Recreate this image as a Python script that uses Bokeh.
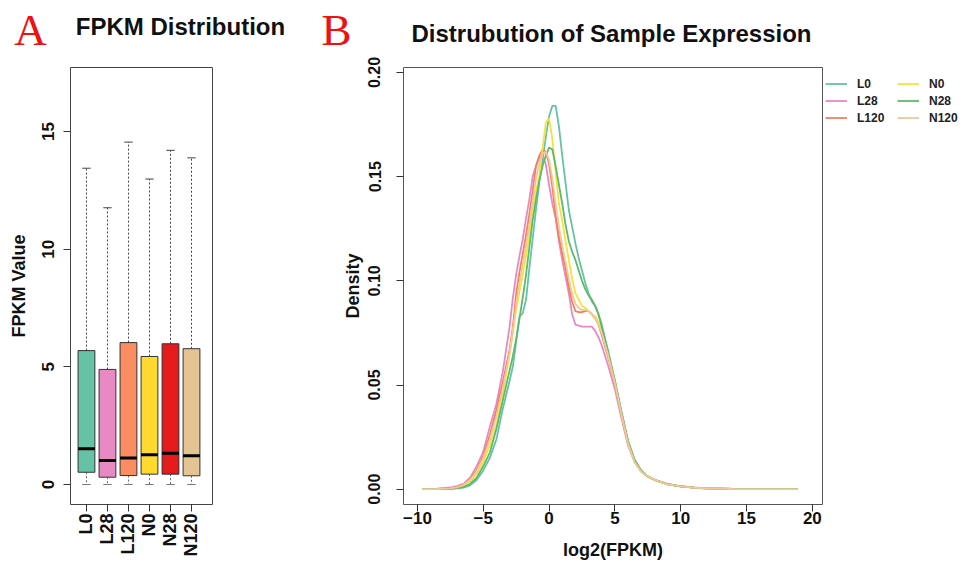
import math
from bokeh.plotting import figure
from bokeh.models import Range1d, FixedTicker, Label, Legend, LegendItem, NumeralTickFormatter
from bokeh.layouts import row, column
from bokeh.embed import file_html
from bokeh.resources import INLINE

# ---------------- data: panel A (boxplot) ----------------
samples = ["L0", "L28", "L120", "N0", "N28", "N120"]
box_low = [0.0, 0.0, 0.0, 0.0, 0.0, 0.0]
box_q1 = [0.52, 0.31, 0.38, 0.44, 0.44, 0.37]
box_median = [1.52, 1.02, 1.13, 1.26, 1.33, 1.22]
box_q3 = [5.69, 4.89, 6.03, 5.44, 5.98, 5.77]
box_high = [13.44, 11.76, 14.55, 12.98, 14.20, 13.88]
box_colors = ["#66C2A5", "#E78AC3", "#FC8D62", "#FFD92F", "#E41A1C", "#E5C494"]
a_yticks = [0, 5, 10, 15]

# ---------------- data: panel B (density) ----------------
log2_fpkm = [-9.6, -8.5, -7.5, -7, -6.5, -6, -5.5, -5, -4.5, -4,
             -3.5, -3, -2.75, -2.5, -2.25, -2, -1.75, -1.5, -1.25, -1,
             -0.75, -0.5, -0.25, 0, 0.25, 0.5, 0.75, 1, 1.25, 1.5,
             1.75, 2, 2.25, 2.5, 2.75, 3, 3.25, 3.5, 3.75, 4,
             4.5, 5, 5.5, 6, 6.5, 7, 7.5, 8, 9, 10,
             11, 12, 14, 16, 18.9]
density_L0 = [0, 0, 0.0002, 0.0004, 0.0008, 0.0018, 0.0045, 0.009, 0.015, 0.024,
              0.039, 0.052, 0.059, 0.071, 0.083, 0.0845, 0.091, 0.106, 0.120, 0.134,
              0.147, 0.158, 0.169, 0.179, 0.184, 0.184, 0.174, 0.160, 0.147, 0.134,
              0.126, 0.118, 0.111, 0.105, 0.099, 0.094, 0.090, 0.088, 0.084, 0.079,
              0.065, 0.052, 0.037, 0.023, 0.014, 0.0088, 0.006, 0.0045, 0.0023, 0.0013,
              0.0007, 0.0004, 0.0001, 0, 0]
density_L28 = [0, 0.0002, 0.0008, 0.0015, 0.0025, 0.0055, 0.011, 0.018, 0.030, 0.041,
               0.057, 0.078, 0.092, 0.103, 0.112, 0.120, 0.130, 0.139, 0.150, 0.155,
               0.159, 0.160, 0.156, 0.146, 0.137, 0.130, 0.119, 0.110, 0.102, 0.094,
               0.084, 0.079, 0.0785, 0.078, 0.078, 0.078, 0.078, 0.076, 0.073, 0.069,
               0.059, 0.048, 0.034, 0.021, 0.013, 0.0085, 0.006, 0.0045, 0.0025, 0.0014,
               0.0008, 0.0004, 0.0001, 0, 0]
density_L120 = [0, 0.0001, 0.0005, 0.001, 0.0022, 0.005, 0.009, 0.016, 0.026, 0.038,
                0.052, 0.067, 0.078, 0.094, 0.104, 0.113, 0.122, 0.132, 0.143, 0.155,
                0.160, 0.163, 0.162, 0.156, 0.145, 0.131, 0.121, 0.113, 0.106, 0.097,
                0.090, 0.0855, 0.085, 0.085, 0.0855, 0.0855, 0.084, 0.082, 0.079, 0.074,
                0.063, 0.051, 0.036, 0.022, 0.013, 0.0085, 0.006, 0.0045, 0.0023, 0.0013,
                0.0007, 0.0004, 0.0001, 0, 0]
density_N0 = [0, 0, 0.0003, 0.0007, 0.0015, 0.0035, 0.0074, 0.013, 0.021, 0.031,
              0.046, 0.065, 0.076, 0.086, 0.095, 0.103, 0.112, 0.122, 0.134, 0.143,
              0.150, 0.163, 0.176, 0.178, 0.168, 0.152, 0.137, 0.129, 0.119, 0.110,
              0.101, 0.094, 0.091, 0.088, 0.087, 0.0855, 0.084, 0.083, 0.080, 0.076,
              0.064, 0.051, 0.036, 0.022, 0.013, 0.0085, 0.006, 0.0045, 0.0023, 0.0013,
              0.0007, 0.0004, 0.0001, 0, 0]
density_N28 = [0, 0, 0.0002, 0.0005, 0.001, 0.0025, 0.0055, 0.011, 0.0175, 0.029,
               0.043, 0.057, 0.064, 0.072, 0.082, 0.092, 0.103, 0.116, 0.129, 0.139,
               0.148, 0.155, 0.160, 0.164, 0.163, 0.155, 0.146, 0.137, 0.127, 0.119,
               0.114, 0.110, 0.105, 0.100, 0.096, 0.093, 0.091, 0.088, 0.084, 0.078,
               0.066, 0.052, 0.037, 0.023, 0.014, 0.009, 0.006, 0.0045, 0.0024, 0.0013,
               0.0007, 0.0004, 0.0001, 0, 0]
density_N120 = [0, 0.0001, 0.0004, 0.0009, 0.002, 0.0045, 0.0085, 0.015, 0.024, 0.035,
                0.049, 0.065, 0.075, 0.089, 0.099, 0.108, 0.117, 0.127, 0.138, 0.149,
                0.156, 0.161, 0.162, 0.158, 0.149, 0.137, 0.126, 0.117, 0.109, 0.101,
                0.094, 0.089, 0.087, 0.086, 0.086, 0.0855, 0.084, 0.082, 0.079, 0.075,
                0.064, 0.051, 0.036, 0.022, 0.013, 0.0085, 0.006, 0.0045, 0.0023, 0.0013,
                0.0007, 0.0004, 0.0001, 0, 0]
density_series = [density_L0, density_L28, density_L120, density_N0, density_N28, density_N120]
density_colors = ["#66C2A5", "#E78AC3", "#F47F5E", "#F5E23A", "#5DBA6B", "#F0C89A"]
b_xticks = [-10, -5, 0, 5, 10, 15, 20]
b_yticks = [0.0, 0.05, 0.10, 0.15, 0.20]

FONT = "Liberation Sans"
AXC = "#333333"
TOTAL_W, TOTAL_H, HEAD_H = 969, 565, 56
A_W = 330
TOP_B, FRAME_H = 11, 437                      # shared by both panels (row aligns frames)
BOTTOM_B = TOTAL_H - HEAD_H - TOP_B - FRAME_H


def style_axis(ax, size):
    ax.axis_line_color = None
    ax.major_tick_line_color = AXC
    ax.major_tick_in = 0
    ax.major_tick_out = 7
    ax.minor_tick_line_color = None
    ax.major_label_text_font = FONT
    ax.major_label_text_font_style = "bold"
    ax.major_label_text_font_size = size
    ax.major_label_text_color = "#111111"
    ax.axis_label_text_font = FONT
    ax.axis_label_text_font_style = "bold"
    ax.axis_label_text_font_size = "18px"
    ax.axis_label_text_color = "#111111"


# ---------------- header (panel letters and titles) ----------------
head = figure(width=TOTAL_W, height=HEAD_H, x_range=Range1d(0, TOTAL_W), y_range=Range1d(HEAD_H, 0),
              x_axis_type=None, y_axis_type=None, title=None, min_border=0, min_border_left=0,
              min_border_right=0, min_border_top=0, min_border_bottom=0,
              toolbar_location=None, output_backend="svg")
head.outline_line_color = None
head.xgrid.grid_line_color = None
head.ygrid.grid_line_color = None
for txt, x, y, font, size, color, style in [
        ("A", 30, 29, "Liberation Serif", "45px", "#EE1111", "normal"),
        ("FPKM Distribution", 180, 26, FONT, "24px", "#111111", "bold"),
        ("B", 336, 29, "Liberation Serif", "45px", "#EE1111", "normal"),
        ("Distrubution of Sample Expression", 611, 33, FONT, "24px", "#111111", "bold")]:
    head.add_layout(Label(x=x, y=y, text=txt, text_font=font, text_font_size=size,
                          text_font_style=style, text_color=color,
                          text_align="center", text_baseline="middle"))

# ---------------- panel A ----------------
pos = list(range(1, len(samples) + 1))
pA = figure(frame_width=142, frame_height=FRAME_H, title=None,
            min_border_left=70, min_border_right=A_W - 70 - 142, min_border_top=TOP_B,
            min_border_bottom=BOTTOM_B,
            x_range=Range1d(0.24, 7.0), y_range=Range1d(-0.85, 17.72),
            toolbar_location=None, output_backend="svg")
pA.xgrid.grid_line_color = None
pA.ygrid.grid_line_color = None
pA.outline_line_color = "#444444"
pA.outline_line_width = 1

half_cap = 0.2
half_box = 0.4
pA.segment(x0=pos, y0=box_q3, x1=pos, y1=box_high, line_color="#444444", line_dash="2 2", line_width=1)
pA.segment(x0=pos, y0=box_q1, x1=pos, y1=box_low, line_color="#666666", line_dash="2 2", line_width=1)
pA.segment(x0=[p - half_cap for p in pos], y0=box_high, x1=[p + half_cap for p in pos], y1=box_high,
           line_color="#444444", line_width=1)
pA.segment(x0=[p - half_cap for p in pos], y0=box_low, x1=[p + half_cap for p in pos], y1=box_low,
           line_color="#777777", line_width=1)
pA.vbar(x=pos, width=2 * half_box, bottom=box_q1, top=box_q3, fill_color=box_colors,
        line_color="#333333", line_width=1)
pA.segment(x0=[p - half_box for p in pos], y0=box_median, x1=[p + half_box for p in pos], y1=box_median,
           line_color="#000000", line_width=3)

pA.yaxis.ticker = FixedTicker(ticks=a_yticks)
pA.xaxis.ticker = FixedTicker(ticks=pos)
pA.xaxis.major_label_overrides = {p: s for p, s in zip(pos, samples)}
style_axis(pA.xaxis[0], "18px")
style_axis(pA.yaxis[0], "17px")
pA.xaxis.major_label_orientation = math.pi / 2
pA.xaxis.major_label_standoff = 2
pA.yaxis.major_label_orientation = "parallel"
pA.yaxis.major_label_standoff = 9
pA.yaxis.axis_label = "FPKM Value"
pA.yaxis.axis_label_standoff = 11

# ---------------- panel B ----------------
B_LEFT = 403 - A_W
pB = figure(frame_width=419, frame_height=FRAME_H, title=None,
            min_border_left=B_LEFT, min_border_right=TOTAL_W - A_W - B_LEFT - 419,
            min_border_top=TOP_B, min_border_bottom=BOTTOM_B,
            x_range=Range1d(-11.06, 20.77), y_range=Range1d(-0.00735, 0.2024),
            toolbar_location=None, output_backend="svg")
pB.xgrid.grid_line_color = None
pB.ygrid.grid_line_color = None
pB.outline_line_color = "#555555"
pB.outline_line_width = 1

items = []
for name, dens, col in zip(samples, density_series, density_colors):
    r = pB.line(x=log2_fpkm, y=dens, line_color=col, line_width=1.8)
    items.append(LegendItem(label=name, renderers=[r]))

pB.xaxis.ticker = FixedTicker(ticks=b_xticks)
pB.yaxis.ticker = FixedTicker(ticks=b_yticks)
pB.yaxis.formatter = NumeralTickFormatter(format="0.00")
style_axis(pB.xaxis[0], "17px")
style_axis(pB.yaxis[0], "16px")
pB.yaxis.major_label_orientation = "parallel"
pB.yaxis.major_label_standoff = 16
pB.yaxis.axis_label = "Density"
pB.yaxis.axis_label_standoff = 3
pB.xaxis.major_label_standoff = 0
pB.xaxis.axis_label = "log2(FPKM)"
pB.xaxis.axis_label_standoff = 13

legend = Legend(items=items, location=(3, 378), orientation="vertical", nrows=3,
                glyph_width=22, glyph_height=17, label_height=17, label_width=40,
                label_standoff=10, spacing=0, padding=0, margin=0,
                label_text_font=FONT, label_text_font_style="bold",
                label_text_font_size="12px", label_text_color="#222222",
                border_line_alpha=0, background_fill_alpha=0)
pB.add_layout(legend, "right")

layout = column(head, row(pA, pB))
open("out.html", "w").write(file_html(layout, INLINE))
